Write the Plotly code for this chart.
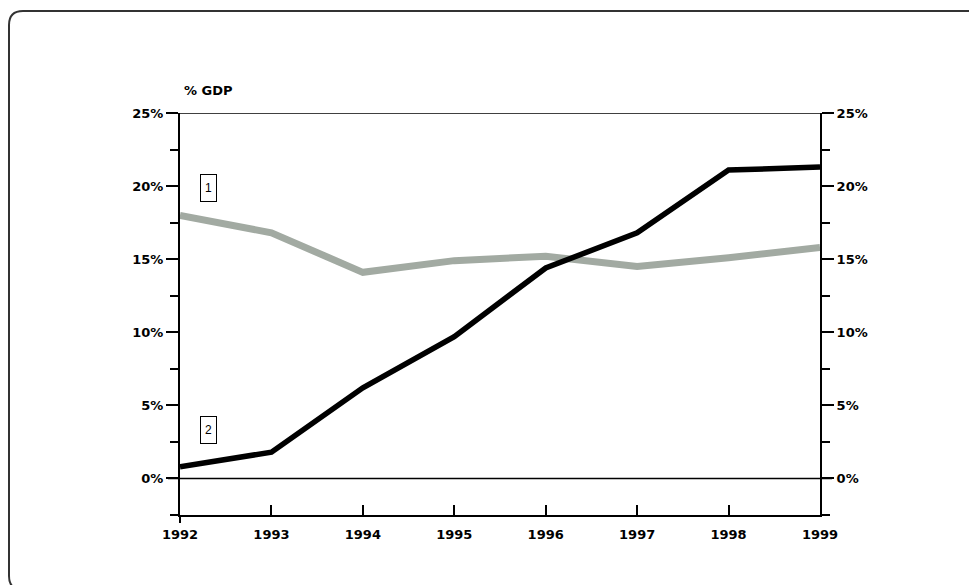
import plotly.graph_objects as go

years = [1992, 1993, 1994, 1995, 1996, 1997, 1998, 1999]
series1 = [18.0, 16.8, 14.1, 14.9, 15.2, 14.5, 15.1, 15.8]
series2 = [0.8, 1.8, 6.2, 9.7, 14.4, 16.8, 21.1, 21.3]
y_ticks = [0, 5, 10, 15, 20, 25]
y_ticklabels = ["0%", "5%", "10%", "15%", "20%", "25%"]
y_title = "% GDP"

OFF = 8  # page body margin
W, H = 977 - OFF, 585 - OFF
L, R, T, B = 180, 820, 113, 515  # plot area in window pixels

def px(x):
    return (x - L) / (R - L)

def py(y):
    return (B - y) / (B - T)

font = dict(family="DejaVu Sans, sans-serif", size=13, color="black", weight="bold")
box_font = dict(family="Liberation Sans, Arial, sans-serif", size=12, color="black")

fig = go.Figure()
fig.add_trace(go.Scatter(x=years, y=series1, mode="lines",
                         line=dict(color="#a2aaa2", width=7), showlegend=False))
fig.add_trace(go.Scatter(x=years, y=series2, mode="lines",
                         line=dict(color="#000000", width=5.5), showlegend=False))
fig.add_trace(go.Scatter(x=[years[0]], y=[0], mode="markers", marker=dict(opacity=0),
                         yaxis="y2", showlegend=False, hoverinfo="skip"))

axis_common = dict(range=[-2.5, 25], tickvals=y_ticks, ticktext=y_ticklabels,
                   ticks="outside", ticklen=12, tickwidth=1.5, tickcolor="black",
                   showline=True, linecolor="black", linewidth=2, showgrid=False,
                   zeroline=False, tickfont=font,
                   minor=dict(dtick=2.5, tick0=-2.5, ticks="outside", ticklen=8,
                              tickwidth=1.5, tickcolor="black", showgrid=False))

fig.update_layout(
    width=W, height=H,
    margin=dict(l=L - OFF, r=W + OFF - R, t=T - OFF, b=H + OFF - B),
    paper_bgcolor="white", plot_bgcolor="white",
    xaxis=dict(range=[1992, 1999], tickvals=years, ticks="inside", ticklen=10,
               tickwidth=1.5, tickcolor="black", showline=True, linecolor="black",
               linewidth=2, showgrid=False, zeroline=False, tickfont=font,
               ticklabelstandoff=6),
    yaxis=dict(side="left", **axis_common),
    yaxis2=dict(side="right", overlaying="y", **axis_common),
)

# horizontal lines at 0% and 25%
for yv in (0, 25):
    fig.add_shape(type="line", xref="paper", yref="y", x0=px(168), x1=px(832),
                  y0=yv, y1=yv, line=dict(color="black", width=1.5))

# left axis extension below bottom
fig.add_shape(type="line", xref="paper", yref="paper", x0=0, x1=0, y0=0, y1=py(523),
              line=dict(color="black", width=2))

# title
fig.add_annotation(text=y_title, xref="paper", yref="paper", x=px(182), y=py(90),
                   xanchor="left", yanchor="middle", showarrow=False, font=font)

# series labels
for label, xv, yv in (("1", 1992.31, 19.9), ("2", 1992.31, 3.3)):
    fig.add_annotation(text=label, x=xv, y=yv, showarrow=False, font=box_font,
                       bordercolor="black", borderwidth=1, borderpad=1,
                       width=13, height=24, bgcolor="white")

# rounded outer border
x0, x1 = px(9), px(995)
y0, y1 = py(590), py(11)
rx, ry = 14 / (R - L), 14 / (B - T)
path = (f"M {x1},{y0} L {x0 + rx},{y0} Q {x0},{y0} {x0},{y0 + ry} "
        f"L {x0},{y1 - ry} Q {x0},{y1} {x0 + rx},{y1} "
        f"L {x1},{y1} Z")
fig.add_shape(type="path", xref="paper", yref="paper", path=path,
              line=dict(color="#333333", width=2), layer="below")

fig.write_html("out.html")
